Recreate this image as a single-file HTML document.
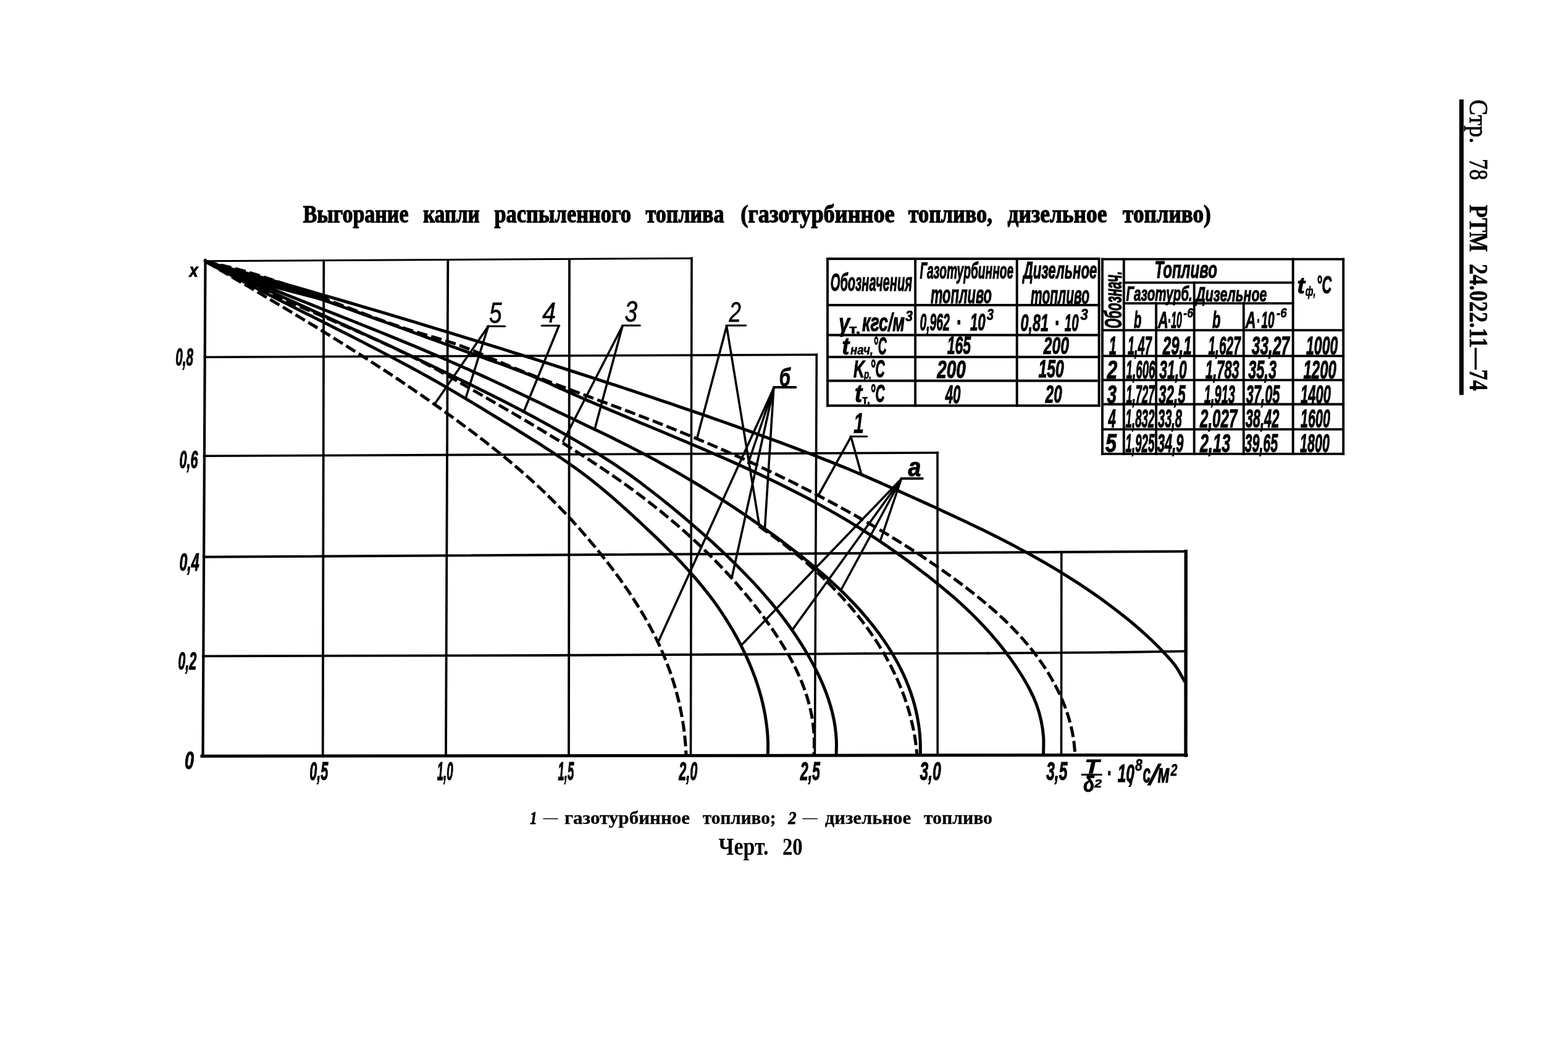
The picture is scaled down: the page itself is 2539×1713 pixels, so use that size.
<!DOCTYPE html>
<html lang="ru"><head><meta charset="utf-8"><title>Черт. 20</title>
<style>html,body{margin:0;padding:0;background:#fff}body{width:2539px;height:1713px;overflow:hidden}svg{display:block}text{white-space:pre}</style></head>
<body>
<svg width="2539" height="1713" viewBox="0 0 2539 1713" role="img" aria-label="Черт. 20">
<rect width="2539" height="1713" fill="#fff"/>
<g stroke="#000" fill="none" stroke-linecap="square">
<line x1="332.5" y1="421" x2="328.5" y2="1224" stroke-width="4.2" />
<line x1="327" y1="1224.2" x2="1921" y2="1222.4" stroke-width="5.0" />
<line x1="331" y1="422.7" x2="1120" y2="418.2" stroke-width="2.9" />
<line x1="524.3" y1="422" x2="522.7" y2="1223" stroke-width="3.8" />
<line x1="725.3" y1="421" x2="722" y2="1223" stroke-width="3.8" />
<line x1="922" y1="420" x2="921" y2="1223" stroke-width="3.8" />
<line x1="1120" y1="418.2" x2="1118.5" y2="1223" stroke-width="3.6" />
<line x1="331.5" y1="578.2" x2="1322.3" y2="574.3" stroke-width="3.6" />
<line x1="1322.3" y1="574.3" x2="1319.4" y2="1223" stroke-width="3.6" />
<line x1="330.5" y1="738.3" x2="1518" y2="733" stroke-width="3.6" />
<line x1="1518" y1="733" x2="1518.2" y2="1223" stroke-width="3.6" />
<line x1="329.8" y1="901.8" x2="1920.3" y2="892.7" stroke-width="4.0" />
<line x1="1718.8" y1="893.5" x2="1718.5" y2="1223" stroke-width="3.6" />
<line x1="1920.3" y1="892.7" x2="1920" y2="1223" stroke-width="5.4" />
<line x1="329" y1="1062.3" x2="900" y2="1061" stroke-width="3.8" />
<line x1="900" y1="1061" x2="1200" y2="1059.5" stroke-width="3.8" />
<line x1="1200" y1="1059.5" x2="1400" y2="1058.2" stroke-width="3.8" />
<line x1="1400" y1="1058.2" x2="1600" y2="1057.6" stroke-width="3.8" />
<line x1="1600" y1="1057.6" x2="1800" y2="1056.2" stroke-width="3.8" />
<line x1="1800" y1="1056.2" x2="1920" y2="1054.4" stroke-width="3.8" />
</g>
<g stroke="#000" fill="none" stroke-linejoin="round">
<path d="M334.0,424.0 C338.8,425.3 353.0,429.3 362.5,432.0 C372.0,434.6 381.5,437.3 391.0,440.0 C400.5,442.6 410.0,445.3 419.5,448.0 C429.0,450.7 438.5,453.4 448.0,456.1 C457.5,458.8 467.0,461.5 476.5,464.2 C486.0,467.0 495.5,469.7 504.9,472.4 C514.4,475.2 523.9,477.9 533.4,480.7 C542.8,483.4 552.3,486.2 561.8,489.0 C571.3,491.8 580.7,494.5 590.2,497.3 C599.6,500.1 609.1,502.9 618.6,505.7 C628.0,508.5 637.5,511.4 646.9,514.2 C656.4,517.0 665.8,519.9 675.3,522.7 C684.7,525.5 694.2,528.4 703.6,531.3 C713.1,534.1 722.5,537.0 731.9,539.9 C741.4,542.8 750.8,545.7 760.2,548.6 C769.7,551.5 779.1,554.4 788.5,557.3 C797.9,560.2 807.3,563.2 816.8,566.1 C826.2,569.1 835.6,572.0 845.0,575.0 C854.4,578.0 863.8,580.9 873.2,583.9 C882.6,586.9 892.0,589.9 901.4,592.9 C910.8,595.9 920.2,598.9 929.6,602.0 C939.0,605.0 948.4,608.0 957.8,611.1 C967.1,614.1 976.5,617.2 985.9,620.3 C995.3,623.3 1004.6,626.4 1014.0,629.5 C1023.4,632.6 1032.8,635.7 1042.1,638.9 C1051.5,642.0 1060.8,645.1 1070.2,648.3 C1079.5,651.4 1088.9,654.6 1098.2,657.8 C1107.6,661.0 1116.9,664.2 1126.2,667.4 C1135.5,670.6 1144.9,673.8 1154.2,677.1 C1163.5,680.4 1172.8,683.6 1182.1,686.9 C1191.4,690.2 1200.7,693.6 1210.0,696.9 C1219.2,700.2 1228.5,703.6 1237.8,707.0 C1247.0,710.4 1256.3,713.8 1265.5,717.2 C1274.8,720.7 1284.0,724.1 1293.2,727.6 C1302.5,731.1 1311.7,734.7 1320.9,738.3 C1330.0,741.8 1339.2,745.5 1348.4,749.1 C1357.5,752.8 1366.7,756.5 1375.8,760.3 C1384.9,764.1 1394.0,768.0 1403.0,771.9 C1412.1,775.8 1421.1,779.8 1430.1,783.8 C1439.2,787.8 1448.2,791.8 1457.2,795.9 C1466.2,799.9 1475.2,804.0 1484.2,808.0 C1493.2,812.1 1502.2,816.2 1511.2,820.3 C1520.2,824.4 1529.2,828.5 1538.1,832.7 C1547.1,836.8 1556.0,841.0 1565.0,845.3 C1573.9,849.5 1582.8,853.8 1591.6,858.1 C1600.5,862.5 1609.3,866.9 1618.1,871.3 C1626.9,875.8 1635.7,880.3 1644.4,884.9 C1653.1,889.6 1661.8,894.2 1670.4,899.0 C1679.0,903.8 1687.6,908.6 1696.1,913.6 C1704.6,918.5 1713.0,923.6 1721.4,928.8 C1729.8,933.9 1738.1,939.2 1746.4,944.6 C1754.6,950.0 1762.8,955.5 1770.9,961.1 C1779.0,966.7 1787.0,972.5 1795.0,978.4 C1802.9,984.3 1810.8,990.3 1818.5,996.5 C1826.3,1002.7 1834.0,1009.0 1841.5,1015.5 C1849.0,1022.0 1856.5,1028.7 1863.7,1035.5 C1870.8,1042.3 1877.9,1049.3 1884.5,1056.5 C1891.2,1063.7 1898.1,1070.8 1903.8,1078.7 C1909.4,1086.6 1916.1,1099.8 1918.5,1104.0" stroke-width="5.0"/>
<path d="M334.0,424.0 C338.4,425.3 351.8,429.3 360.6,431.9 C369.5,434.6 378.3,437.4 387.2,440.1 C396.0,442.9 404.8,445.7 413.6,448.6 C422.4,451.4 431.2,454.3 440.0,457.2 C448.8,460.1 457.6,463.0 466.3,466.0 C475.1,469.0 483.9,472.0 492.6,475.0 C501.4,478.0 510.1,481.0 518.8,484.1 C527.5,487.2 536.3,490.2 545.0,493.3 C553.7,496.4 562.4,499.6 571.1,502.7 C579.8,505.8 588.5,508.9 597.2,512.1 C605.9,515.2 614.6,518.4 623.3,521.5 C632.0,524.7 640.7,527.9 649.4,531.0 C658.1,534.2 666.8,537.4 675.5,540.5 C684.2,543.7 692.8,546.9 701.5,550.0 C710.2,553.2 718.9,556.3 727.6,559.5 C736.3,562.6 745.0,565.7 753.7,568.9 C762.4,572.0 771.2,575.1 779.9,578.2 C788.6,581.3 797.3,584.3 806.0,587.5 C814.7,590.6 823.4,593.8 832.0,597.1 C840.7,600.3 849.3,603.7 857.9,607.1 C866.4,610.6 874.9,614.3 883.4,618.0 C891.9,621.7 900.2,625.6 908.7,629.4 C917.1,633.2 925.5,637.0 934.0,640.7 C942.4,644.5 950.9,648.1 959.4,651.8 C967.9,655.4 976.4,659.0 984.9,662.6 C993.4,666.2 1002.0,669.8 1010.5,673.4 C1019.0,677.0 1027.6,680.5 1036.1,684.1 C1044.7,687.6 1053.2,691.2 1061.8,694.8 C1070.3,698.3 1078.9,701.9 1087.4,705.5 C1095.9,709.1 1104.5,712.6 1113.0,716.3 C1121.5,719.9 1130.1,723.5 1138.6,727.1 C1147.1,730.8 1155.6,734.5 1164.0,738.2 C1172.5,741.9 1181.0,745.7 1189.4,749.4 C1197.9,753.2 1206.3,757.1 1214.7,760.9 C1223.1,764.8 1231.5,768.7 1239.8,772.7 C1248.2,776.7 1256.5,780.7 1264.8,784.8 C1273.1,788.9 1281.3,793.0 1289.5,797.2 C1297.8,801.5 1306.0,805.7 1314.1,810.1 C1322.3,814.5 1330.4,818.9 1338.4,823.4 C1346.5,827.9 1354.5,832.5 1362.5,837.2 C1370.5,841.9 1378.4,846.7 1386.3,851.5 C1394.1,856.4 1402.0,861.4 1409.7,866.4 C1417.5,871.5 1425.2,876.7 1432.9,881.9 C1440.6,887.1 1448.2,892.5 1455.7,897.9 C1463.3,903.2 1470.8,908.7 1478.2,914.2 C1485.6,919.8 1493.0,925.3 1500.3,931.0 C1507.6,936.7 1514.8,942.4 1521.9,948.2 C1529.1,954.0 1536.1,959.9 1543.1,965.9 C1550.0,972.0 1556.9,978.1 1563.6,984.5 C1570.4,990.8 1577.0,997.2 1583.5,1003.9 C1589.9,1010.5 1596.3,1017.3 1602.5,1024.3 C1608.6,1031.2 1614.7,1038.4 1620.5,1045.6 C1626.3,1052.9 1631.9,1060.4 1637.3,1067.9 C1642.7,1075.5 1647.9,1083.2 1652.8,1091.0 C1657.7,1098.9 1662.5,1106.8 1666.7,1115.0 C1671.0,1123.1 1674.9,1131.4 1678.1,1140.0 C1681.3,1148.6 1683.9,1157.5 1685.8,1166.4 C1687.8,1175.4 1689.1,1184.6 1689.7,1193.9 C1690.3,1203.2 1689.5,1217.3 1689.5,1222.0" stroke-width="5.0"/>
<path d="M334.0,424.0 C337.8,425.6 349.3,430.5 356.9,433.7 C364.5,436.9 372.2,440.1 379.8,443.3 C387.5,446.5 395.2,449.6 402.9,452.8 C410.5,455.9 418.2,459.0 425.9,462.1 C433.6,465.2 441.3,468.3 449.0,471.4 C456.7,474.5 464.4,477.6 472.1,480.6 C479.8,483.7 487.5,486.7 495.3,489.8 C503.0,492.9 510.7,495.9 518.4,499.0 C526.1,502.0 533.8,505.1 541.6,508.1 C549.3,511.2 557.0,514.2 564.7,517.3 C572.4,520.3 580.1,523.4 587.8,526.5 C595.5,529.6 603.2,532.7 610.9,535.8 C618.6,538.9 626.3,542.0 634.0,545.1 C641.6,548.3 649.3,551.4 657.0,554.6 C664.6,557.7 672.3,560.9 679.9,564.1 C687.6,567.4 695.2,570.6 702.8,573.9 C710.5,577.1 718.1,580.4 725.7,583.7 C733.3,587.0 740.8,590.4 748.4,593.8 C756.0,597.1 763.5,600.6 771.1,604.0 C778.6,607.4 786.2,610.9 793.7,614.3 C801.2,617.8 808.7,621.3 816.2,624.8 C823.7,628.4 831.2,631.9 838.7,635.5 C846.2,639.0 853.7,642.6 861.2,646.2 C868.6,649.8 876.1,653.4 883.5,657.0 C891.0,660.6 898.5,664.3 905.9,667.9 C913.4,671.5 920.8,675.1 928.3,678.6 C935.8,682.2 943.3,685.8 950.7,689.4 C958.2,692.9 965.7,696.5 973.1,700.1 C980.6,703.7 988.1,707.3 995.5,711.0 C1002.9,714.7 1010.3,718.4 1017.7,722.1 C1025.1,725.9 1032.5,729.7 1039.8,733.5 C1047.2,737.4 1054.5,741.3 1061.8,745.3 C1069.0,749.3 1076.3,753.3 1083.5,757.4 C1090.7,761.4 1097.9,765.6 1105.1,769.8 C1112.3,774.0 1119.4,778.2 1126.5,782.5 C1133.6,786.8 1140.7,791.1 1147.7,795.5 C1154.8,799.9 1161.8,804.3 1168.7,808.8 C1175.7,813.3 1182.7,817.9 1189.6,822.4 C1196.5,827.0 1203.3,831.7 1210.2,836.3 C1217.0,841.0 1223.8,845.8 1230.6,850.5 C1237.3,855.3 1244.1,860.2 1250.8,865.1 C1257.5,869.9 1264.1,874.9 1270.7,879.9 C1277.3,884.9 1283.9,889.9 1290.5,895.0 C1297.0,900.1 1303.5,905.3 1309.9,910.6 C1316.4,915.8 1322.7,921.1 1329.0,926.5 C1335.3,931.9 1341.6,937.4 1347.7,943.0 C1353.8,948.6 1359.9,954.2 1365.8,960.0 C1371.7,965.9 1377.5,971.8 1383.2,977.8 C1388.9,983.8 1394.5,990.0 1399.9,996.3 C1405.3,1002.6 1410.6,1009.1 1415.7,1015.6 C1420.8,1022.2 1425.8,1028.9 1430.5,1035.8 C1435.2,1042.6 1439.8,1049.6 1444.1,1056.7 C1448.3,1063.8 1452.4,1071.0 1456.2,1078.4 C1460.0,1085.7 1463.6,1093.2 1466.8,1100.8 C1470.0,1108.4 1473.0,1116.1 1475.6,1123.9 C1478.2,1131.7 1480.6,1139.6 1482.5,1147.6 C1484.5,1155.6 1486.1,1163.8 1487.3,1172.0 C1488.6,1180.1 1489.4,1188.4 1490.0,1196.8 C1490.5,1205.1 1490.3,1217.8 1490.4,1222.0" stroke-width="5.0"/>
<path d="M334.0,424.0 C337.5,425.6 347.8,430.5 354.8,433.7 C361.7,436.9 368.6,440.1 375.6,443.3 C382.5,446.6 389.5,449.7 396.4,452.9 C403.4,456.1 410.3,459.3 417.3,462.5 C424.2,465.7 431.2,468.8 438.1,472.0 C445.1,475.2 452.1,478.3 459.0,481.5 C466.0,484.6 473.0,487.8 479.9,490.9 C486.9,494.1 493.9,497.3 500.8,500.4 C507.8,503.6 514.8,506.7 521.7,509.9 C528.7,513.0 535.7,516.2 542.6,519.4 C549.6,522.5 556.5,525.7 563.5,528.9 C570.5,532.0 577.4,535.2 584.4,538.4 C591.3,541.6 598.3,544.8 605.2,548.0 C612.1,551.2 619.1,554.4 626.0,557.6 C632.9,560.8 639.8,564.1 646.8,567.3 C653.7,570.6 660.6,573.8 667.5,577.1 C674.4,580.4 681.3,583.6 688.2,586.9 C695.1,590.2 701.9,593.5 708.8,596.9 C715.7,600.2 722.5,603.5 729.4,606.9 C736.3,610.2 743.1,613.6 750.0,616.9 C756.8,620.3 763.7,623.6 770.5,627.0 C777.4,630.4 784.2,633.8 791.0,637.2 C797.9,640.6 804.7,644.0 811.5,647.5 C818.3,651.0 825.1,654.5 831.9,658.0 C838.7,661.5 845.4,665.1 852.2,668.7 C858.9,672.3 865.7,675.9 872.4,679.6 C879.1,683.2 885.8,686.9 892.5,690.7 C899.2,694.4 905.8,698.1 912.5,701.9 C919.1,705.7 925.8,709.5 932.4,713.3 C939.0,717.2 945.6,721.0 952.2,724.9 C958.7,728.9 965.3,732.8 971.7,736.8 C978.2,740.9 984.7,745.0 991.0,749.1 C997.4,753.3 1003.7,757.6 1010.0,762.0 C1016.3,766.3 1022.5,770.8 1028.6,775.3 C1034.8,779.8 1040.9,784.4 1046.9,789.1 C1053.0,793.7 1059.1,798.4 1065.1,803.1 C1071.1,807.8 1077.0,812.6 1083.0,817.4 C1088.9,822.2 1094.8,827.1 1100.7,832.0 C1106.6,836.9 1112.4,841.9 1118.2,846.8 C1124.0,851.8 1129.8,856.9 1135.5,861.9 C1141.3,867.0 1147.0,872.1 1152.7,877.2 C1158.3,882.4 1164.0,887.6 1169.5,892.8 C1175.1,898.1 1180.7,903.4 1186.1,908.7 C1191.6,914.0 1197.0,919.4 1202.4,924.9 C1207.7,930.4 1213.0,935.9 1218.3,941.4 C1223.5,947.0 1228.6,952.7 1233.7,958.4 C1238.7,964.1 1243.7,969.9 1248.6,975.7 C1253.4,981.6 1258.2,987.5 1262.9,993.5 C1267.6,999.5 1272.2,1005.6 1276.6,1011.8 C1281.1,1018.0 1285.5,1024.3 1289.7,1030.6 C1293.9,1037.0 1298.1,1043.4 1302.0,1050.0 C1306.0,1056.5 1309.9,1063.1 1313.6,1069.9 C1317.3,1076.6 1320.9,1083.5 1324.2,1090.4 C1327.6,1097.3 1330.8,1104.3 1333.7,1111.4 C1336.6,1118.5 1339.3,1125.7 1341.7,1132.9 C1344.1,1140.2 1346.2,1147.5 1348.0,1154.9 C1349.8,1162.3 1351.3,1169.7 1352.3,1177.3 C1353.4,1184.8 1354.1,1192.3 1354.4,1200.0 C1354.7,1207.6 1354.1,1219.2 1354.0,1223.0" stroke-width="5.0"/>
<path d="M334.0,424.0 C337.1,425.7 346.6,430.8 352.9,434.2 C359.2,437.6 365.5,441.0 371.8,444.3 C378.2,447.6 384.5,451.0 390.9,454.3 C397.2,457.6 403.6,460.9 409.9,464.1 C416.3,467.4 422.7,470.7 429.0,473.9 C435.4,477.2 441.8,480.4 448.2,483.7 C454.6,486.9 461.0,490.1 467.3,493.3 C473.7,496.6 480.1,499.8 486.5,503.0 C492.9,506.2 499.3,509.4 505.7,512.6 C512.1,515.8 518.5,519.0 524.9,522.3 C531.3,525.5 537.7,528.7 544.1,531.9 C550.5,535.1 556.9,538.4 563.3,541.6 C569.6,544.9 576.0,548.1 582.4,551.4 C588.8,554.6 595.1,557.9 601.5,561.2 C607.8,564.5 614.2,567.8 620.5,571.1 C626.9,574.4 633.2,577.7 639.5,581.1 C645.8,584.4 652.2,587.8 658.5,591.2 C664.8,594.6 671.0,598.0 677.3,601.4 C683.6,604.9 689.8,608.3 696.1,611.8 C702.3,615.3 708.5,618.8 714.8,622.4 C721.0,625.9 727.2,629.5 733.3,633.1 C739.5,636.8 745.7,640.4 751.8,644.1 C758.0,647.7 764.1,651.4 770.2,655.1 C776.4,658.8 782.5,662.5 788.6,666.3 C794.7,670.0 800.8,673.7 806.9,677.5 C813.0,681.2 819.1,685.0 825.2,688.7 C831.3,692.5 837.4,696.2 843.5,700.0 C849.6,703.7 855.7,707.5 861.8,711.3 C867.8,715.1 873.9,718.9 879.9,722.8 C885.9,726.7 891.9,730.6 897.9,734.5 C903.8,738.5 909.7,742.4 915.6,746.5 C921.5,750.6 927.3,754.7 933.1,758.8 C938.9,763.0 944.6,767.3 950.3,771.6 C956.0,776.0 961.6,780.4 967.1,784.9 C972.7,789.4 978.2,793.9 983.6,798.5 C989.1,803.2 994.5,807.8 999.9,812.6 C1005.3,817.3 1010.6,822.1 1015.9,826.9 C1021.2,831.7 1026.5,836.5 1031.8,841.4 C1037.0,846.3 1042.3,851.2 1047.5,856.1 C1052.7,861.0 1057.9,865.9 1063.1,870.9 C1068.3,875.8 1073.4,880.8 1078.5,885.9 C1083.6,890.9 1088.7,896.0 1093.7,901.1 C1098.7,906.2 1103.6,911.4 1108.5,916.6 C1113.3,921.8 1118.1,927.1 1122.8,932.5 C1127.5,937.8 1132.2,943.3 1136.7,948.8 C1141.2,954.3 1145.6,959.9 1149.9,965.6 C1154.3,971.3 1158.5,977.1 1162.6,982.9 C1166.6,988.8 1170.6,994.7 1174.5,1000.8 C1178.3,1006.8 1182.1,1012.9 1185.7,1019.1 C1189.3,1025.3 1192.8,1031.5 1196.2,1037.9 C1199.5,1044.2 1202.7,1050.6 1205.8,1057.1 C1208.9,1063.6 1211.8,1070.1 1214.6,1076.8 C1217.4,1083.4 1220.0,1090.1 1222.5,1096.8 C1224.9,1103.5 1227.2,1110.3 1229.2,1117.2 C1231.3,1124.0 1233.2,1130.9 1234.8,1137.9 C1236.4,1144.8 1237.9,1151.8 1239.1,1158.8 C1240.3,1165.9 1241.3,1172.9 1242.0,1180.0 C1242.8,1187.1 1243.2,1194.3 1243.5,1201.4 C1243.7,1208.6 1243.3,1219.4 1243.3,1223.0" stroke-width="5.0"/>
<path d="M334.0,424.0 C338.6,425.0 352.6,427.9 361.8,430.1 C371.0,432.3 380.2,434.7 389.3,437.2 C398.5,439.7 407.6,442.4 416.6,445.2 C425.7,448.0 434.8,451.0 443.8,454.0 C452.8,457.0 461.8,460.1 470.7,463.3 C479.7,466.5 488.6,469.8 497.6,473.1 C506.5,476.4 515.4,479.8 524.3,483.2 C533.2,486.6 542.1,490.0 551.0,493.4 C559.9,496.8 568.8,500.2 577.7,503.6 C586.7,506.9 595.6,510.3 604.5,513.6 C613.4,516.8 622.3,520.1 631.3,523.3 C640.2,526.4 649.2,529.5 658.1,532.5 C667.1,535.4 676.1,538.3 685.2,541.0 C694.2,543.8 703.3,546.2 712.3,548.9 C721.3,551.6 730.4,554.3 739.3,557.4 C748.2,560.6 757.0,564.1 765.8,567.7 C774.6,571.2 783.3,575.1 792.0,578.8 C800.8,582.5 809.5,586.2 818.3,589.9 C827.1,593.5 835.9,597.1 844.7,600.6 C853.5,604.2 862.3,607.6 871.2,611.1 C880.0,614.5 888.9,617.9 897.8,621.3 C906.6,624.6 915.5,628.0 924.4,631.3 C933.3,634.6 942.1,637.9 951.0,641.2 C959.9,644.6 968.8,647.8 977.7,651.2 C986.6,654.5 995.5,657.8 1004.3,661.1 C1013.2,664.5 1022.1,667.8 1030.9,671.2 C1039.8,674.6 1048.6,678.0 1057.5,681.5 C1066.3,684.9 1075.1,688.4 1083.9,692.0 C1092.7,695.5 1101.5,699.1 1110.3,702.7 C1119.0,706.3 1127.8,710.0 1136.5,713.7 C1145.3,717.3 1154.0,721.1 1162.7,724.9 C1171.4,728.7 1180.1,732.5 1188.7,736.4 C1197.4,740.2 1206.0,744.1 1214.7,748.1 C1223.3,752.1 1231.9,756.1 1240.5,760.2 C1249.0,764.2 1257.6,768.3 1266.1,772.5 C1274.6,776.6 1283.2,780.8 1291.6,785.1 C1300.1,789.4 1308.6,793.7 1317.0,798.0 C1325.4,802.4 1333.8,806.8 1342.2,811.3 C1350.6,815.8 1358.9,820.3 1367.2,824.9 C1375.5,829.5 1383.8,834.1 1392.1,838.8 C1400.3,843.5 1408.5,848.3 1416.7,853.1 C1424.9,857.9 1433.0,862.8 1441.1,867.7 C1449.2,872.7 1457.3,877.7 1465.3,882.8 C1473.3,887.9 1481.3,893.0 1489.2,898.2 C1497.1,903.5 1505.0,908.8 1512.8,914.2 C1520.6,919.5 1528.4,925.0 1536.1,930.5 C1543.7,936.1 1551.4,941.7 1559.0,947.4 C1566.5,953.1 1574.0,958.9 1581.4,964.8 C1588.8,970.7 1596.2,976.7 1603.3,982.9 C1610.5,989.1 1617.6,995.4 1624.5,1001.9 C1631.3,1008.4 1638.1,1015.1 1644.6,1022.0 C1651.2,1028.9 1657.6,1036.0 1663.7,1043.3 C1669.8,1050.6 1675.7,1058.1 1681.3,1065.8 C1686.9,1073.5 1692.3,1081.4 1697.3,1089.5 C1702.2,1097.6 1706.9,1105.9 1711.2,1114.3 C1715.5,1122.7 1719.4,1131.3 1722.8,1140.1 C1726.3,1148.9 1729.4,1157.8 1731.9,1166.9 C1734.4,1175.9 1736.5,1185.2 1738.0,1194.5 C1739.6,1203.9 1740.5,1218.3 1741.0,1223.0" stroke-width="5.0" stroke-dasharray="17.5 6.5"/>
<path d="M1229.0,852.0 C1230.1,852.7 1233.3,854.9 1235.4,856.4 C1237.5,857.9 1239.7,859.4 1241.8,860.9 C1243.9,862.4 1246.0,863.9 1248.1,865.4 C1250.2,867.0 1252.4,868.5 1254.5,870.0 C1256.6,871.6 1258.7,873.2 1260.8,874.7 C1262.9,876.3 1265.0,877.9 1267.1,879.5 C1269.1,881.1 1271.2,882.7 1273.3,884.3 C1275.4,885.9 1277.4,887.5 1279.5,889.2 C1281.6,890.8 1283.6,892.5 1285.7,894.1 C1287.7,895.8 1289.8,897.5 1291.8,899.1 C1293.9,900.8 1295.9,902.5 1297.9,904.2 C1299.9,905.9 1301.9,907.7 1304.0,909.4 C1306.0,911.1 1308.0,912.8 1309.9,914.6 C1311.9,916.3 1313.9,918.1 1315.9,919.9 C1317.9,921.7 1319.8,923.4 1321.8,925.2 C1323.7,927.0 1325.7,928.8 1327.6,930.6 C1329.5,932.5 1331.5,934.3 1333.4,936.1 C1335.3,938.0 1337.2,939.8 1339.1,941.7 C1341.0,943.5 1342.9,945.4 1344.7,947.3 C1346.6,949.2 1348.5,951.1 1350.3,953.0 C1352.2,954.9 1354.0,956.8 1355.8,958.7 C1357.6,960.6 1359.5,962.6 1361.3,964.5 C1363.1,966.5 1364.8,968.4 1366.6,970.4 C1368.4,972.4 1370.1,974.3 1371.9,976.3 C1373.6,978.3 1375.4,980.3 1377.1,982.3 C1378.8,984.3 1380.5,986.4 1382.2,988.4 C1383.9,990.4 1385.6,992.5 1387.2,994.5 C1388.9,996.6 1390.5,998.6 1392.1,1000.7 C1393.8,1002.8 1395.4,1004.9 1397.0,1007.0 C1398.6,1009.1 1400.2,1011.2 1401.7,1013.3 C1403.3,1015.4 1404.8,1017.5 1406.4,1019.7 C1407.9,1021.8 1409.4,1024.0 1410.9,1026.1 C1412.4,1028.3 1413.9,1030.4 1415.4,1032.6 C1416.8,1034.8 1418.3,1037.0 1419.7,1039.2 C1421.1,1041.4 1422.5,1043.6 1423.9,1045.8 C1425.3,1048.0 1426.7,1050.3 1428.0,1052.5 C1429.4,1054.8 1430.7,1057.0 1432.0,1059.3 C1433.3,1061.5 1434.6,1063.8 1435.9,1066.1 C1437.1,1068.4 1438.4,1070.7 1439.6,1073.0 C1440.9,1075.3 1442.1,1077.6 1443.3,1079.9 C1444.4,1082.2 1445.6,1084.5 1446.8,1086.9 C1447.9,1089.2 1449.0,1091.6 1450.1,1094.0 C1451.2,1096.3 1452.3,1098.7 1453.4,1101.1 C1454.4,1103.5 1455.5,1105.8 1456.5,1108.2 C1457.5,1110.7 1458.5,1113.1 1459.5,1115.5 C1460.4,1117.9 1461.4,1120.3 1462.3,1122.8 C1463.2,1125.2 1464.1,1127.7 1465.0,1130.1 C1465.8,1132.6 1466.7,1135.1 1467.5,1137.6 C1468.3,1140.0 1469.1,1142.5 1469.9,1145.0 C1470.7,1147.5 1471.4,1150.1 1472.1,1152.6 C1472.9,1155.1 1473.5,1157.6 1474.2,1160.2 C1474.9,1162.7 1475.5,1165.3 1476.1,1167.8 C1476.8,1170.4 1477.3,1173.0 1477.9,1175.5 C1478.5,1178.1 1479.0,1180.7 1479.5,1183.3 C1480.0,1185.9 1480.5,1188.5 1481.0,1191.1 C1481.4,1193.8 1481.8,1196.4 1482.2,1199.0 C1482.6,1201.7 1483.0,1204.3 1483.3,1207.0 C1483.7,1209.6 1484.0,1212.3 1484.2,1215.0 C1484.5,1217.6 1484.9,1221.7 1485.0,1223.0" stroke-width="5.0" stroke-dasharray="17.5 6.5"/>
<path d="M334.0,424.0 C337.3,425.8 347.2,431.2 353.8,434.6 C360.4,438.1 367.1,441.5 373.8,444.9 C380.4,448.2 387.2,451.5 393.9,454.8 C400.6,458.1 407.4,461.3 414.2,464.4 C421.0,467.6 427.8,470.7 434.6,473.8 C441.4,476.9 448.3,480.0 455.1,483.0 C462.0,486.0 468.8,489.0 475.7,492.0 C482.6,495.0 489.5,498.0 496.3,501.0 C503.2,503.9 510.1,506.9 517.0,509.8 C523.9,512.8 530.8,515.7 537.7,518.7 C544.6,521.7 551.4,524.6 558.3,527.6 C565.2,530.6 572.1,533.5 578.9,536.6 C585.8,539.6 592.6,542.6 599.5,545.7 C606.3,548.7 613.1,551.8 619.9,554.9 C626.7,558.1 633.5,561.2 640.2,564.4 C647.0,567.6 653.7,570.9 660.5,574.2 C667.2,577.5 673.8,580.8 680.5,584.3 C687.1,587.7 693.8,591.1 700.4,594.7 C706.9,598.2 713.5,601.8 720.0,605.5 C726.6,609.1 733.1,612.8 739.6,616.5 C746.1,620.2 752.5,624.0 759.0,627.7 C765.5,631.4 772.0,635.1 778.5,638.9 C785.0,642.6 791.4,646.3 797.9,650.1 C804.4,653.8 810.9,657.5 817.3,661.3 C823.8,665.1 830.2,668.8 836.7,672.6 C843.2,676.4 849.6,680.2 856.1,684.0 C862.5,687.8 868.9,691.6 875.4,695.5 C881.8,699.3 888.2,703.2 894.6,707.1 C901.0,711.0 907.4,714.9 913.7,718.8 C920.1,722.8 926.5,726.8 932.8,730.8 C939.1,734.8 945.4,738.8 951.7,742.9 C958.0,747.0 964.2,751.1 970.5,755.3 C976.7,759.4 982.9,763.6 989.0,767.9 C995.2,772.1 1001.3,776.4 1007.4,780.7 C1013.5,785.0 1019.6,789.4 1025.6,793.9 C1031.7,798.3 1037.7,802.8 1043.6,807.3 C1049.5,811.8 1055.5,816.4 1061.3,821.1 C1067.2,825.7 1073.0,830.4 1078.7,835.2 C1084.5,840.0 1090.2,844.8 1095.9,849.6 C1101.6,854.5 1107.2,859.4 1112.7,864.4 C1118.3,869.4 1123.8,874.5 1129.3,879.6 C1134.7,884.7 1140.1,889.9 1145.5,895.1 C1150.8,900.3 1156.1,905.6 1161.3,911.0 C1166.5,916.3 1171.6,921.8 1176.7,927.2 C1181.8,932.7 1186.8,938.3 1191.8,943.9 C1196.7,949.5 1201.6,955.2 1206.4,960.9 C1211.2,966.7 1216.0,972.5 1220.6,978.4 C1225.3,984.3 1229.9,990.2 1234.4,996.3 C1238.9,1002.3 1243.3,1008.4 1247.6,1014.5 C1252.0,1020.7 1256.2,1026.9 1260.3,1033.2 C1264.4,1039.6 1268.4,1045.9 1272.2,1052.4 C1276.0,1058.9 1279.7,1065.4 1283.2,1072.0 C1286.6,1078.6 1289.9,1085.3 1292.9,1092.1 C1296.0,1098.9 1298.9,1105.7 1301.4,1112.6 C1304.0,1119.6 1306.4,1126.6 1308.4,1133.7 C1310.4,1140.8 1312.2,1148.0 1313.7,1155.2 C1315.2,1162.5 1316.3,1169.8 1317.1,1177.3 C1317.9,1184.7 1318.4,1192.3 1318.5,1199.9 C1318.6,1207.5 1317.8,1219.2 1317.7,1223.0" stroke-width="5.0" stroke-dasharray="17.5 6.5"/>
<path d="M334.0,424.0 C336.8,425.7 345.3,430.6 350.9,433.9 C356.6,437.2 362.2,440.5 367.9,443.8 C373.5,447.1 379.2,450.5 384.8,453.8 C390.5,457.1 396.1,460.4 401.8,463.7 C407.4,467.1 413.0,470.4 418.7,473.7 C424.3,477.1 430.0,480.4 435.6,483.8 C441.2,487.1 446.9,490.5 452.5,493.8 C458.1,497.2 463.8,500.5 469.4,503.9 C475.0,507.3 480.6,510.7 486.2,514.1 C491.9,517.5 497.5,520.9 503.1,524.3 C508.7,527.7 514.3,531.1 519.9,534.6 C525.5,538.0 531.0,541.4 536.6,544.9 C542.2,548.3 547.8,551.8 553.3,555.3 C558.9,558.8 564.4,562.3 570.0,565.8 C575.5,569.3 581.1,572.8 586.6,576.3 C592.1,579.9 597.6,583.4 603.1,587.0 C608.6,590.5 614.1,594.1 619.6,597.7 C625.1,601.3 630.6,604.9 636.1,608.5 C641.5,612.1 647.0,615.8 652.4,619.4 C657.8,623.1 663.3,626.8 668.7,630.5 C674.1,634.2 679.5,637.9 684.9,641.6 C690.3,645.3 695.7,649.1 701.0,652.9 C706.4,656.6 711.7,660.4 717.0,664.2 C722.4,668.1 727.7,671.9 733.0,675.7 C738.3,679.6 743.6,683.5 748.8,687.4 C754.1,691.3 759.3,695.2 764.6,699.1 C769.8,703.1 775.0,707.1 780.2,711.1 C785.4,715.0 790.6,719.1 795.7,723.1 C800.9,727.2 806.0,731.3 811.1,735.4 C816.2,739.5 821.2,743.6 826.3,747.8 C831.3,752.0 836.3,756.2 841.3,760.5 C846.2,764.8 851.1,769.1 856.0,773.4 C860.9,777.8 865.8,782.2 870.6,786.6 C875.4,791.1 880.1,795.5 884.8,800.1 C889.5,804.6 894.2,809.2 898.8,813.9 C903.4,818.5 908.0,823.2 912.5,827.9 C917.0,832.7 921.5,837.5 925.9,842.3 C930.3,847.1 934.7,852.0 939.1,856.9 C943.4,861.8 947.7,866.8 952.0,871.8 C956.2,876.8 960.4,881.8 964.6,886.9 C968.8,892.0 972.9,897.1 977.0,902.3 C981.0,907.4 985.1,912.6 989.1,917.8 C993.1,923.1 997.0,928.3 1000.9,933.6 C1004.8,938.9 1008.6,944.3 1012.3,949.7 C1016.1,955.1 1019.8,960.5 1023.4,966.0 C1027.0,971.5 1030.5,977.0 1033.9,982.6 C1037.4,988.1 1040.8,993.7 1044.0,999.4 C1047.3,1005.1 1050.5,1010.8 1053.6,1016.5 C1056.6,1022.3 1059.6,1028.1 1062.5,1034.0 C1065.3,1039.8 1068.1,1045.8 1070.8,1051.7 C1073.4,1057.7 1075.9,1063.7 1078.3,1069.8 C1080.7,1075.9 1083.0,1082.0 1085.2,1088.2 C1087.3,1094.3 1089.4,1100.6 1091.3,1106.8 C1093.2,1113.1 1095.0,1119.4 1096.6,1125.7 C1098.3,1132.1 1099.8,1138.4 1101.2,1144.8 C1102.5,1151.3 1103.8,1157.7 1104.9,1164.2 C1106.0,1170.6 1107.0,1177.1 1107.8,1183.7 C1108.6,1190.2 1109.3,1196.7 1109.8,1203.3 C1110.4,1209.8 1110.8,1219.7 1111.0,1223.0" stroke-width="5.0" stroke-dasharray="17.5 6.5"/>
<polygon points="334,423 532,478.5 532,490 440,466" fill="#000" stroke="none"/>
</g>
<g stroke="#000" fill="none" stroke-linecap="round">
<line x1="790.6" y1="528.3" x2="704" y2="654" stroke-width="3.6" />
<line x1="790.6" y1="528.3" x2="753.8" y2="645.5" stroke-width="3.6" />
<line x1="905" y1="527.5" x2="848" y2="667" stroke-width="3.6" />
<line x1="1008" y1="527.8" x2="912" y2="714.5" stroke-width="3.6" />
<line x1="1008" y1="527.8" x2="963.5" y2="693" stroke-width="3.6" />
<line x1="1176.6" y1="528.3" x2="1128.3" y2="711" stroke-width="3.6" />
<line x1="1176.6" y1="528.3" x2="1229.5" y2="850.7" stroke-width="3.6" />
<line x1="1252.8" y1="628.5" x2="1066.3" y2="1038.3" stroke-width="3.6" />
<line x1="1252.8" y1="628.5" x2="1211.5" y2="750" stroke-width="3.6" />
<line x1="1252.8" y1="628.5" x2="1185.1" y2="935" stroke-width="3.6" />
<line x1="1252.8" y1="628.5" x2="1238.5" y2="855" stroke-width="3.6" />
<line x1="1378" y1="707.2" x2="1326.8" y2="799" stroke-width="3.6" />
<line x1="1378" y1="707.2" x2="1394.5" y2="767" stroke-width="3.6" />
<line x1="1459.4" y1="775.5" x2="1200.6" y2="1044.4" stroke-width="3.6" />
<line x1="1459.4" y1="775.5" x2="1283.3" y2="1019.4" stroke-width="3.6" />
<line x1="1459.4" y1="775.5" x2="1362.5" y2="954" stroke-width="3.6" />
<line x1="1459.4" y1="775.5" x2="1426.2" y2="873.5" stroke-width="3.6" />
<line x1="789.3" y1="528.3" x2="817.7" y2="528.3" stroke-width="3.0" />
<line x1="877.2" y1="527.2" x2="905.7" y2="527.2" stroke-width="3.0" />
<line x1="1007.5" y1="527" x2="1036.4" y2="527" stroke-width="3.0" />
<line x1="1175.8" y1="527" x2="1207.6" y2="527" stroke-width="3.0" />
<line x1="1253" y1="626.9" x2="1288.4" y2="626.9" stroke-width="4.0" />
<line x1="1376.7" y1="706.7" x2="1403.8" y2="706.7" stroke-width="3.0" />
<line x1="1459.4" y1="774.7" x2="1493.8" y2="774.7" stroke-width="4.0" />
</g>
<g stroke="#000" fill="none" stroke-linecap="square">
<line x1="1340" y1="419" x2="1779.6" y2="419" stroke-width="3.9" />
<line x1="1340" y1="656.7" x2="1779.6" y2="656.7" stroke-width="3.9" />
<line x1="1340" y1="419" x2="1340" y2="656.7" stroke-width="3.9" />
<line x1="1779.6" y1="419" x2="1779.6" y2="656.7" stroke-width="3.9" />
<line x1="1482.1" y1="419" x2="1482.1" y2="656.7" stroke-width="3.9" />
<line x1="1646.7" y1="419" x2="1646.7" y2="656.7" stroke-width="3.9" />
<line x1="1340" y1="494" x2="1779.6" y2="494" stroke-width="3.9" />
<line x1="1340" y1="542.5" x2="1779.6" y2="542.5" stroke-width="3.9" />
<line x1="1340" y1="578" x2="1779.6" y2="578" stroke-width="3.9" />
<line x1="1340" y1="616.5" x2="1779.6" y2="616.5" stroke-width="3.9" />
<line x1="1785" y1="419.6" x2="2175.2" y2="419.6" stroke-width="3.9" />
<line x1="1785" y1="734.9" x2="2175.2" y2="734.9" stroke-width="3.9" />
<line x1="1785" y1="419.6" x2="1785" y2="734.9" stroke-width="3.9" />
<line x1="2175.2" y1="419.6" x2="2175.2" y2="734.9" stroke-width="3.9" />
<line x1="1819.8" y1="419.6" x2="1819.8" y2="734.9" stroke-width="3.9" />
<line x1="2093.7" y1="419.6" x2="2093.7" y2="734.9" stroke-width="3.9" />
<line x1="1872.1" y1="491.1" x2="1872.1" y2="734.9" stroke-width="3.9" />
<line x1="1933.7" y1="457.6" x2="1933.7" y2="734.9" stroke-width="3.9" />
<line x1="2013.8" y1="491.1" x2="2013.8" y2="734.9" stroke-width="3.9" />
<line x1="1819.8" y1="457.6" x2="2093.7" y2="457.6" stroke-width="3.9" />
<line x1="1819.8" y1="491.1" x2="2093.7" y2="491.1" stroke-width="3.9" />
<line x1="1785" y1="534.6" x2="2175.2" y2="534.6" stroke-width="3.9" />
<line x1="1785" y1="576.4" x2="2175.2" y2="576.4" stroke-width="3.9" />
<line x1="1785" y1="615.4" x2="2175.2" y2="615.4" stroke-width="3.9" />
<line x1="1785" y1="654.5" x2="2175.2" y2="654.5" stroke-width="3.9" />
<line x1="1785" y1="695.1" x2="2175.2" y2="695.1" stroke-width="3.9" />
</g>
<g font-family="'Liberation Sans', sans-serif" fill="#000">
<text x="306.7" y="447.5" font-size="30" font-weight="bold" font-style="italic" textLength="13.8" lengthAdjust="spacingAndGlyphs" stroke="#000" stroke-width="1.1">x</text>
<text x="284.2" y="591.5" font-size="40" font-weight="bold" font-style="italic" textLength="28.8" lengthAdjust="spacingAndGlyphs" stroke="#000" stroke-width="1.1">0,8</text>
<text x="290.4" y="757.5" font-size="40" font-weight="bold" font-style="italic" textLength="30.1" lengthAdjust="spacingAndGlyphs" stroke="#000" stroke-width="1.1">0,6</text>
<text x="290.4" y="924.0" font-size="40" font-weight="bold" font-style="italic" textLength="32.2" lengthAdjust="spacingAndGlyphs" stroke="#000" stroke-width="1.1">0,4</text>
<text x="288.2" y="1083.5" font-size="40" font-weight="bold" font-style="italic" textLength="30.1" lengthAdjust="spacingAndGlyphs" stroke="#000" stroke-width="1.1">0,2</text>
<text x="299.0" y="1244.5" font-size="40" font-weight="bold" font-style="italic" textLength="15.0" lengthAdjust="spacingAndGlyphs" stroke="#000" stroke-width="1.1">0</text>
<text x="501.2" y="1263.0" font-size="43" font-weight="bold" font-style="italic" textLength="30.1" lengthAdjust="spacingAndGlyphs" stroke="#000" stroke-width="1.1">0,5</text>
<text x="707.7" y="1263.0" font-size="43" font-weight="bold" font-style="italic" textLength="25.9" lengthAdjust="spacingAndGlyphs" stroke="#000" stroke-width="1.1">1,0</text>
<text x="903.5" y="1263.0" font-size="43" font-weight="bold" font-style="italic" textLength="25.8" lengthAdjust="spacingAndGlyphs" stroke="#000" stroke-width="1.1">1,5</text>
<text x="1099.3" y="1263.0" font-size="43" font-weight="bold" font-style="italic" textLength="30.1" lengthAdjust="spacingAndGlyphs" stroke="#000" stroke-width="1.1">2,0</text>
<text x="1295.8" y="1263.0" font-size="43" font-weight="bold" font-style="italic" textLength="32.2" lengthAdjust="spacingAndGlyphs" stroke="#000" stroke-width="1.1">2,5</text>
<text x="1489.4" y="1263.0" font-size="43" font-weight="bold" font-style="italic" textLength="34.4" lengthAdjust="spacingAndGlyphs" stroke="#000" stroke-width="1.1">3,0</text>
<text x="1694.2" y="1263.0" font-size="43" font-weight="bold" font-style="italic" textLength="34.2" lengthAdjust="spacingAndGlyphs" stroke="#000" stroke-width="1.1">3,5</text>
<text x="792.0" y="522.6" font-size="48" font-weight="normal" font-style="italic" textLength="20.5" lengthAdjust="spacingAndGlyphs" stroke="#000" stroke-width="0.7">5</text>
<text x="878.0" y="521.5" font-size="47" font-weight="normal" font-style="italic" textLength="22.0" lengthAdjust="spacingAndGlyphs" stroke="#000" stroke-width="0.7">4</text>
<text x="1011.4" y="521.3" font-size="48" font-weight="normal" font-style="italic" textLength="20.6" lengthAdjust="spacingAndGlyphs" stroke="#000" stroke-width="0.7">3</text>
<text x="1180.5" y="521.3" font-size="47" font-weight="normal" font-style="italic" textLength="19.3" lengthAdjust="spacingAndGlyphs" stroke="#000" stroke-width="0.7">2</text>
<text x="1382.0" y="700.8" font-size="47" font-weight="bold" font-style="italic" textLength="17.0" lengthAdjust="spacingAndGlyphs" stroke="#000" stroke-width="0.4">1</text>
<text x="1261.8" y="624.6" font-size="40" font-weight="bold" font-style="italic" textLength="18.1" lengthAdjust="spacingAndGlyphs" stroke="#000" stroke-width="1.1">б</text>
<text x="1470.6" y="771.0" font-size="42" font-weight="bold" font-style="italic" textLength="20.7" lengthAdjust="spacingAndGlyphs" stroke="#000" stroke-width="1.1">а</text>
<text x="1756.8" y="1251.6" font-size="32" font-weight="bold" font-style="italic" textLength="23.2" lengthAdjust="spacingAndGlyphs" stroke="#000" stroke-width="1.1">T</text>
<text x="1754.2" y="1282.0" font-size="35" font-weight="bold" font-style="italic" textLength="17.8" lengthAdjust="spacingAndGlyphs" stroke="#000" stroke-width="1.1">δ</text>
<text x="1772.0" y="1275.0" font-size="19" font-weight="bold" font-style="italic" textLength="12.0" lengthAdjust="spacingAndGlyphs" stroke="#000" stroke-width="0.6">2</text>
<text x="1793.0" y="1266.0" font-size="40" font-weight="bold" font-style="normal" textLength="8.0" lengthAdjust="spacingAndGlyphs" stroke="#000" stroke-width="1.1">·</text>
<text x="1809.7" y="1265.8" font-size="40" font-weight="bold" font-style="italic" textLength="27.3" lengthAdjust="spacingAndGlyphs" stroke="#000" stroke-width="1.1">10</text>
<text x="1838.0" y="1247.8" font-size="28" font-weight="bold" font-style="italic" textLength="11.8" lengthAdjust="spacingAndGlyphs" stroke="#000" stroke-width="0.6">8</text>
<text x="1828.0" y="1268.0" font-size="36" font-weight="bold" font-style="italic" textLength="8.0" lengthAdjust="spacingAndGlyphs" stroke="#000" stroke-width="1.1">,</text>
<text x="1850.4" y="1267.1" font-size="42" font-weight="bold" font-style="italic" textLength="12.6" lengthAdjust="spacingAndGlyphs" stroke="#000" stroke-width="1.1">с</text>
<text x="1861.5" y="1271.0" font-size="46" font-weight="normal" font-style="italic" textLength="14.0" lengthAdjust="spacingAndGlyphs" stroke="#000" stroke-width="1.6">/</text>
<text x="1874.5" y="1267.1" font-size="42" font-weight="bold" font-style="italic" textLength="19.5" lengthAdjust="spacingAndGlyphs" stroke="#000" stroke-width="1.1">м</text>
<text x="1895.6" y="1255.5" font-size="28" font-weight="bold" font-style="italic" textLength="11.0" lengthAdjust="spacingAndGlyphs" stroke="#000" stroke-width="0.6">2</text>
<text x="1344.8" y="471.3" font-size="40" font-weight="bold" font-style="italic" textLength="132.2" lengthAdjust="spacingAndGlyphs" stroke="#000" stroke-width="1.1">Обозначения</text>
<text x="1489.4" y="450.6" font-size="37" font-weight="bold" font-style="italic" textLength="151.8" lengthAdjust="spacingAndGlyphs" stroke="#000" stroke-width="1.1">Газотурбинное</text>
<text x="1506.9" y="490.5" font-size="40" font-weight="bold" font-style="italic" textLength="99.1" lengthAdjust="spacingAndGlyphs" stroke="#000" stroke-width="1.1">топливо</text>
<text x="1656.7" y="451.2" font-size="38" font-weight="bold" font-style="italic" textLength="119.7" lengthAdjust="spacingAndGlyphs" stroke="#000" stroke-width="1.1">Дизельное</text>
<text x="1669.0" y="491.5" font-size="40" font-weight="bold" font-style="italic" textLength="95.0" lengthAdjust="spacingAndGlyphs" stroke="#000" stroke-width="1.1">топливо</text>
<text x="1358.2" y="536.5" font-size="40" font-weight="bold" font-style="italic" textLength="17.8" lengthAdjust="spacingAndGlyphs" stroke="#000" stroke-width="1.1">γ</text>
<text x="1375.0" y="540.0" font-size="20" font-weight="bold" font-style="normal" textLength="18.0" lengthAdjust="spacingAndGlyphs" stroke="#000" stroke-width="0.6">т,</text>
<text x="1396.0" y="536.3" font-size="40" font-weight="bold" font-style="italic" textLength="69.0" lengthAdjust="spacingAndGlyphs" stroke="#000" stroke-width="1.1">кгс/м</text>
<text x="1466.0" y="520.0" font-size="24" font-weight="bold" font-style="italic" textLength="12.0" lengthAdjust="spacingAndGlyphs" stroke="#000" stroke-width="0.6">3</text>
<text x="1489.4" y="535.3" font-size="39" font-weight="bold" font-style="italic" textLength="48.5" lengthAdjust="spacingAndGlyphs" stroke="#000" stroke-width="1.1">0,962</text>
<text x="1549.0" y="536.0" font-size="40" font-weight="bold" font-style="normal" textLength="9.0" lengthAdjust="spacingAndGlyphs" stroke="#000" stroke-width="1.1">·</text>
<text x="1570.9" y="535.3" font-size="39" font-weight="bold" font-style="italic" textLength="24.8" lengthAdjust="spacingAndGlyphs" stroke="#000" stroke-width="1.1">10</text>
<text x="1597.8" y="517.7" font-size="26" font-weight="bold" font-style="italic" textLength="11.4" lengthAdjust="spacingAndGlyphs" stroke="#000" stroke-width="0.6">3</text>
<text x="1652.5" y="536.3" font-size="39" font-weight="bold" font-style="italic" textLength="45.5" lengthAdjust="spacingAndGlyphs" stroke="#000" stroke-width="1.1">0,81</text>
<text x="1708.0" y="537.0" font-size="40" font-weight="bold" font-style="normal" textLength="9.0" lengthAdjust="spacingAndGlyphs" stroke="#000" stroke-width="1.1">·</text>
<text x="1723.8" y="536.3" font-size="39" font-weight="bold" font-style="italic" textLength="22.7" lengthAdjust="spacingAndGlyphs" stroke="#000" stroke-width="1.1">10</text>
<text x="1749.6" y="517.7" font-size="26" font-weight="bold" font-style="italic" textLength="12.4" lengthAdjust="spacingAndGlyphs" stroke="#000" stroke-width="0.6">3</text>
<text x="1363.4" y="573.5" font-size="38" font-weight="bold" font-style="italic" textLength="11.6" lengthAdjust="spacingAndGlyphs" stroke="#000" stroke-width="1.1">t</text>
<text x="1377.0" y="573.5" font-size="22" font-weight="bold" font-style="italic" textLength="37.0" lengthAdjust="spacingAndGlyphs" stroke="#000" stroke-width="0.6">нач,</text>
<text x="1414.0" y="573.5" font-size="40" font-weight="bold" font-style="italic" textLength="21.7" lengthAdjust="spacingAndGlyphs" stroke="#000" stroke-width="1.1">°C</text>
<text x="1533.8" y="573.0" font-size="40" font-weight="bold" font-style="italic" textLength="38.2" lengthAdjust="spacingAndGlyphs" stroke="#000" stroke-width="1.1">165</text>
<text x="1689.7" y="572.5" font-size="39" font-weight="bold" font-style="italic" textLength="41.3" lengthAdjust="spacingAndGlyphs" stroke="#000" stroke-width="1.1">200</text>
<text x="1382.0" y="610.7" font-size="38" font-weight="bold" font-style="italic" textLength="18.0" lengthAdjust="spacingAndGlyphs" stroke="#000" stroke-width="1.1">K</text>
<text x="1399.0" y="613.0" font-size="20" font-weight="bold" font-style="italic" textLength="12.0" lengthAdjust="spacingAndGlyphs" stroke="#000" stroke-width="0.6">р,</text>
<text x="1409.0" y="610.7" font-size="40" font-weight="bold" font-style="italic" textLength="23.6" lengthAdjust="spacingAndGlyphs" stroke="#000" stroke-width="1.1">°C</text>
<text x="1517.2" y="611.7" font-size="40" font-weight="bold" font-style="italic" textLength="46.5" lengthAdjust="spacingAndGlyphs" stroke="#000" stroke-width="1.1">200</text>
<text x="1681.4" y="610.7" font-size="40" font-weight="bold" font-style="italic" textLength="41.3" lengthAdjust="spacingAndGlyphs" stroke="#000" stroke-width="1.1">150</text>
<text x="1384.0" y="651.0" font-size="40" font-weight="bold" font-style="italic" textLength="12.0" lengthAdjust="spacingAndGlyphs" stroke="#000" stroke-width="1.1">t</text>
<text x="1396.0" y="654.0" font-size="20" font-weight="bold" font-style="normal" textLength="13.0" lengthAdjust="spacingAndGlyphs" stroke="#000" stroke-width="0.6">т,</text>
<text x="1409.0" y="651.0" font-size="40" font-weight="bold" font-style="italic" textLength="23.6" lengthAdjust="spacingAndGlyphs" stroke="#000" stroke-width="1.1">°C</text>
<text x="1530.7" y="653.0" font-size="42" font-weight="bold" font-style="italic" textLength="24.8" lengthAdjust="spacingAndGlyphs" stroke="#000" stroke-width="1.1">40</text>
<text x="1692.8" y="652.0" font-size="41" font-weight="bold" font-style="italic" textLength="26.8" lengthAdjust="spacingAndGlyphs" stroke="#000" stroke-width="1.1">20</text>
<text x="1869.4" y="450.2" font-size="38" font-weight="bold" font-style="italic" textLength="101.6" lengthAdjust="spacingAndGlyphs" stroke="#000" stroke-width="1.1">Топливо</text>
<text x="1823.6" y="487.0" font-size="34" font-weight="bold" font-style="italic" textLength="107.2" lengthAdjust="spacingAndGlyphs" stroke="#000" stroke-width="1.1">Газотурб.</text>
<text x="1936.4" y="487.5" font-size="34" font-weight="bold" font-style="italic" textLength="114.9" lengthAdjust="spacingAndGlyphs" stroke="#000" stroke-width="1.1">Дизельное</text>
<text x="1835.9" y="530.6" font-size="38" font-weight="bold" font-style="italic" textLength="12.3" lengthAdjust="spacingAndGlyphs" stroke="#000" stroke-width="1.1">b</text>
<text x="1875.0" y="530.6" font-size="37" font-weight="bold" font-style="italic" textLength="16.7" lengthAdjust="spacingAndGlyphs" stroke="#000" stroke-width="1.1">A</text>
<text x="1891.0" y="531.0" font-size="34" font-weight="bold" font-style="normal" textLength="6.0" lengthAdjust="spacingAndGlyphs" stroke="#000" stroke-width="1.1">·</text>
<text x="1896.2" y="530.6" font-size="37" font-weight="bold" font-style="italic" textLength="17.8" lengthAdjust="spacingAndGlyphs" stroke="#000" stroke-width="1.1">10</text>
<text x="1916.3" y="513.9" font-size="22" font-weight="bold" font-style="italic" textLength="15.6" lengthAdjust="spacingAndGlyphs" stroke="#000" stroke-width="0.6">-6</text>
<text x="1963.1" y="530.6" font-size="38" font-weight="bold" font-style="italic" textLength="13.4" lengthAdjust="spacingAndGlyphs" stroke="#000" stroke-width="1.1">b</text>
<text x="2016.7" y="530.6" font-size="37" font-weight="bold" font-style="italic" textLength="16.8" lengthAdjust="spacingAndGlyphs" stroke="#000" stroke-width="1.1">A</text>
<text x="2035.0" y="531.0" font-size="34" font-weight="bold" font-style="normal" textLength="6.0" lengthAdjust="spacingAndGlyphs" stroke="#000" stroke-width="1.1">·</text>
<text x="2042.4" y="530.6" font-size="37" font-weight="bold" font-style="italic" textLength="21.2" lengthAdjust="spacingAndGlyphs" stroke="#000" stroke-width="1.1">10</text>
<text x="2067.0" y="513.9" font-size="22" font-weight="bold" font-style="italic" textLength="16.7" lengthAdjust="spacingAndGlyphs" stroke="#000" stroke-width="0.6">-6</text>
<text x="2100.4" y="474.8" font-size="37" font-weight="bold" font-style="italic" textLength="12.3" lengthAdjust="spacingAndGlyphs" stroke="#000" stroke-width="1.1">t</text>
<text x="2113.8" y="479.0" font-size="22" font-weight="bold" font-style="italic" textLength="16.8" lengthAdjust="spacingAndGlyphs" stroke="#000" stroke-width="0.6">ф,</text>
<text x="2131.7" y="474.8" font-size="40" font-weight="bold" font-style="italic" textLength="24.5" lengthAdjust="spacingAndGlyphs" stroke="#000" stroke-width="1.1">°C</text>
<text x="1795.7" y="574.1" font-size="42" font-weight="bold" font-style="italic" textLength="12.3" lengthAdjust="spacingAndGlyphs" stroke="#000" stroke-width="1.1">1</text>
<text x="1825.9" y="574.1" font-size="42" font-weight="bold" font-style="italic" textLength="39.0" lengthAdjust="spacingAndGlyphs" stroke="#000" stroke-width="1.1">1,47</text>
<text x="1882.8" y="574.1" font-size="42" font-weight="bold" font-style="italic" textLength="46.9" lengthAdjust="spacingAndGlyphs" stroke="#000" stroke-width="1.1">29,1</text>
<text x="1956.4" y="574.1" font-size="42" font-weight="bold" font-style="italic" textLength="52.5" lengthAdjust="spacingAndGlyphs" stroke="#000" stroke-width="1.1">1,627</text>
<text x="2026.8" y="574.1" font-size="42" font-weight="bold" font-style="italic" textLength="61.4" lengthAdjust="spacingAndGlyphs" stroke="#000" stroke-width="1.1">33,27</text>
<text x="2115.0" y="574.1" font-size="42" font-weight="bold" font-style="italic" textLength="51.3" lengthAdjust="spacingAndGlyphs" stroke="#000" stroke-width="1.1">1000</text>
<text x="1792.4" y="613.2" font-size="42" font-weight="bold" font-style="italic" textLength="16.7" lengthAdjust="spacingAndGlyphs" stroke="#000" stroke-width="1.1">2</text>
<text x="1823.6" y="613.2" font-size="42" font-weight="bold" font-style="italic" textLength="46.9" lengthAdjust="spacingAndGlyphs" stroke="#000" stroke-width="1.1">1,606</text>
<text x="1877.2" y="613.2" font-size="42" font-weight="bold" font-style="italic" textLength="44.6" lengthAdjust="spacingAndGlyphs" stroke="#000" stroke-width="1.1">31,0</text>
<text x="1952.0" y="613.2" font-size="42" font-weight="bold" font-style="italic" textLength="54.7" lengthAdjust="spacingAndGlyphs" stroke="#000" stroke-width="1.1">1,783</text>
<text x="2021.2" y="613.2" font-size="42" font-weight="bold" font-style="italic" textLength="45.8" lengthAdjust="spacingAndGlyphs" stroke="#000" stroke-width="1.1">35,3</text>
<text x="2110.5" y="613.2" font-size="42" font-weight="bold" font-style="italic" textLength="53.5" lengthAdjust="spacingAndGlyphs" stroke="#000" stroke-width="1.1">1200</text>
<text x="1792.4" y="653.4" font-size="42" font-weight="bold" font-style="italic" textLength="15.6" lengthAdjust="spacingAndGlyphs" stroke="#000" stroke-width="1.1">3</text>
<text x="1823.6" y="653.4" font-size="42" font-weight="bold" font-style="italic" textLength="45.8" lengthAdjust="spacingAndGlyphs" stroke="#000" stroke-width="1.1">1,727</text>
<text x="1876.1" y="653.4" font-size="42" font-weight="bold" font-style="italic" textLength="43.5" lengthAdjust="spacingAndGlyphs" stroke="#000" stroke-width="1.1">32,5</text>
<text x="1949.8" y="653.4" font-size="42" font-weight="bold" font-style="italic" textLength="50.2" lengthAdjust="spacingAndGlyphs" stroke="#000" stroke-width="1.1">1,913</text>
<text x="2017.8" y="653.4" font-size="42" font-weight="bold" font-style="italic" textLength="54.7" lengthAdjust="spacingAndGlyphs" stroke="#000" stroke-width="1.1">37,05</text>
<text x="2106.0" y="653.4" font-size="42" font-weight="bold" font-style="italic" textLength="49.1" lengthAdjust="spacingAndGlyphs" stroke="#000" stroke-width="1.1">1400</text>
<text x="1794.6" y="692.4" font-size="42" font-weight="bold" font-style="italic" textLength="12.3" lengthAdjust="spacingAndGlyphs" stroke="#000" stroke-width="1.1">4</text>
<text x="1822.5" y="692.4" font-size="42" font-weight="bold" font-style="italic" textLength="46.9" lengthAdjust="spacingAndGlyphs" stroke="#000" stroke-width="1.1">1,832</text>
<text x="1875.0" y="692.4" font-size="42" font-weight="bold" font-style="italic" textLength="39.0" lengthAdjust="spacingAndGlyphs" stroke="#000" stroke-width="1.1">33,8</text>
<text x="1943.0" y="692.4" font-size="42" font-weight="bold" font-style="italic" textLength="60.3" lengthAdjust="spacingAndGlyphs" stroke="#000" stroke-width="1.1">2,027</text>
<text x="2016.7" y="692.4" font-size="42" font-weight="bold" font-style="italic" textLength="54.7" lengthAdjust="spacingAndGlyphs" stroke="#000" stroke-width="1.1">38,42</text>
<text x="2106.0" y="692.4" font-size="42" font-weight="bold" font-style="italic" textLength="48.0" lengthAdjust="spacingAndGlyphs" stroke="#000" stroke-width="1.1">1600</text>
<text x="1790.1" y="731.5" font-size="42" font-weight="bold" font-style="italic" textLength="17.9" lengthAdjust="spacingAndGlyphs" stroke="#000" stroke-width="1.1">5</text>
<text x="1822.5" y="731.5" font-size="42" font-weight="bold" font-style="italic" textLength="46.9" lengthAdjust="spacingAndGlyphs" stroke="#000" stroke-width="1.1">1,925</text>
<text x="1873.9" y="731.5" font-size="42" font-weight="bold" font-style="italic" textLength="42.4" lengthAdjust="spacingAndGlyphs" stroke="#000" stroke-width="1.1">34,9</text>
<text x="1943.0" y="731.5" font-size="42" font-weight="bold" font-style="italic" textLength="49.2" lengthAdjust="spacingAndGlyphs" stroke="#000" stroke-width="1.1">2,13</text>
<text x="2015.6" y="731.5" font-size="42" font-weight="bold" font-style="italic" textLength="53.6" lengthAdjust="spacingAndGlyphs" stroke="#000" stroke-width="1.1">39,65</text>
<text x="2104.9" y="731.5" font-size="42" font-weight="bold" font-style="italic" textLength="48.0" lengthAdjust="spacingAndGlyphs" stroke="#000" stroke-width="1.1">1800</text>
</g>
<g font-family="'Liberation Serif', serif" fill="#000">
<text x="490.7" y="360.0" font-size="40" font-weight="bold" font-style="normal" textLength="170.8" lengthAdjust="spacingAndGlyphs" stroke="#000" stroke-width="1.3">Выгорание</text>
<text x="685.3" y="360.0" font-size="40" font-weight="bold" font-style="normal" textLength="91.4" lengthAdjust="spacingAndGlyphs" stroke="#000" stroke-width="1.3">капли</text>
<text x="800.5" y="360.0" font-size="40" font-weight="bold" font-style="normal" textLength="221.3" lengthAdjust="spacingAndGlyphs" stroke="#000" stroke-width="1.3">распыленного</text>
<text x="1045.6" y="360.0" font-size="40" font-weight="bold" font-style="normal" textLength="126.9" lengthAdjust="spacingAndGlyphs" stroke="#000" stroke-width="1.3">топлива</text>
<text x="1199.2" y="360.0" font-size="40" font-weight="bold" font-style="normal" textLength="249.5" lengthAdjust="spacingAndGlyphs" stroke="#000" stroke-width="1.3">(газотурбинное</text>
<text x="1470.7" y="360.0" font-size="40" font-weight="bold" font-style="normal" textLength="136.0" lengthAdjust="spacingAndGlyphs" stroke="#000" stroke-width="1.3">топливо,</text>
<text x="1631.6" y="360.0" font-size="40" font-weight="bold" font-style="normal" textLength="160.9" lengthAdjust="spacingAndGlyphs" stroke="#000" stroke-width="1.3">дизельное</text>
<text x="1818.1" y="360.0" font-size="40" font-weight="bold" font-style="normal" textLength="142.7" lengthAdjust="spacingAndGlyphs" stroke="#000" stroke-width="1.3">топливо)</text>
<text x="857.9" y="1334.4" font-size="29" font-weight="bold" font-style="italic" textLength="11.6" lengthAdjust="spacingAndGlyphs" stroke="#000" stroke-width="0.8">1</text>
<text x="879.6" y="1333.0" font-size="29" font-weight="normal" font-style="normal" textLength="24.1" lengthAdjust="spacingAndGlyphs" >—</text>
<text x="914.0" y="1334.4" font-size="29" font-weight="bold" font-style="normal" textLength="203.1" lengthAdjust="spacingAndGlyphs" stroke="#000" stroke-width="0.3">газотурбинное</text>
<text x="1137.8" y="1334.4" font-size="29" font-weight="bold" font-style="normal" textLength="118.7" lengthAdjust="spacingAndGlyphs" stroke="#000" stroke-width="0.3">топливо;</text>
<text x="1276.2" y="1334.4" font-size="29" font-weight="bold" font-style="italic" textLength="13.3" lengthAdjust="spacingAndGlyphs" stroke="#000" stroke-width="0.8">2</text>
<text x="1299.6" y="1333.0" font-size="29" font-weight="normal" font-style="normal" textLength="24.1" lengthAdjust="spacingAndGlyphs" >—</text>
<text x="1335.7" y="1334.4" font-size="29" font-weight="bold" font-style="normal" textLength="139.4" lengthAdjust="spacingAndGlyphs" stroke="#000" stroke-width="0.3">дизельное</text>
<text x="1495.8" y="1334.4" font-size="29" font-weight="bold" font-style="normal" textLength="111.2" lengthAdjust="spacingAndGlyphs" stroke="#000" stroke-width="0.3">топливо</text>
<text x="1163.6" y="1383.7" font-size="39" font-weight="bold" font-style="normal" textLength="80.9" lengthAdjust="spacingAndGlyphs" >Черт.</text>
<text x="1266.9" y="1383.7" font-size="39" font-weight="bold" font-style="normal" textLength="32.7" lengthAdjust="spacingAndGlyphs" >20</text>
</g>
<line x1="1751" y1="1254.2" x2="1784.6" y2="1254.2" stroke="#000" stroke-width="3"/>
<text transform="translate(1816,531.7) rotate(-90)" font-family="'Liberation Sans', sans-serif" font-size="38" font-weight="bold" font-style="italic" stroke="#000" stroke-width="1.1" textLength="92.7" lengthAdjust="spacingAndGlyphs">Обознач.</text>
<line x1="2366.5" y1="161" x2="2366.5" y2="639.6" stroke="#000" stroke-width="7"/>
<text transform="translate(2380,161.2) rotate(90)" font-family="'Liberation Serif', serif" font-size="43" font-weight="normal" stroke="#000" stroke-width="0.9" textLength="70.8" lengthAdjust="spacingAndGlyphs">Стр.</text>
<text transform="translate(2380,256.9) rotate(90)" font-family="'Liberation Serif', serif" font-size="43" font-weight="normal" stroke="#000" stroke-width="0.9" textLength="34.5" lengthAdjust="spacingAndGlyphs">78</text>
<text transform="translate(2380,331.5) rotate(90)" font-family="'Liberation Serif', serif" font-size="43" font-weight="bold" stroke="#000" stroke-width="0.5" textLength="76.6" lengthAdjust="spacingAndGlyphs">РТМ</text>
<text transform="translate(2380,427.2) rotate(90)" font-family="'Liberation Serif', serif" font-size="43" font-weight="bold" stroke="#000" stroke-width="0.5" textLength="205.5" lengthAdjust="spacingAndGlyphs">24.022.11—74</text>
</svg>
</body></html>
